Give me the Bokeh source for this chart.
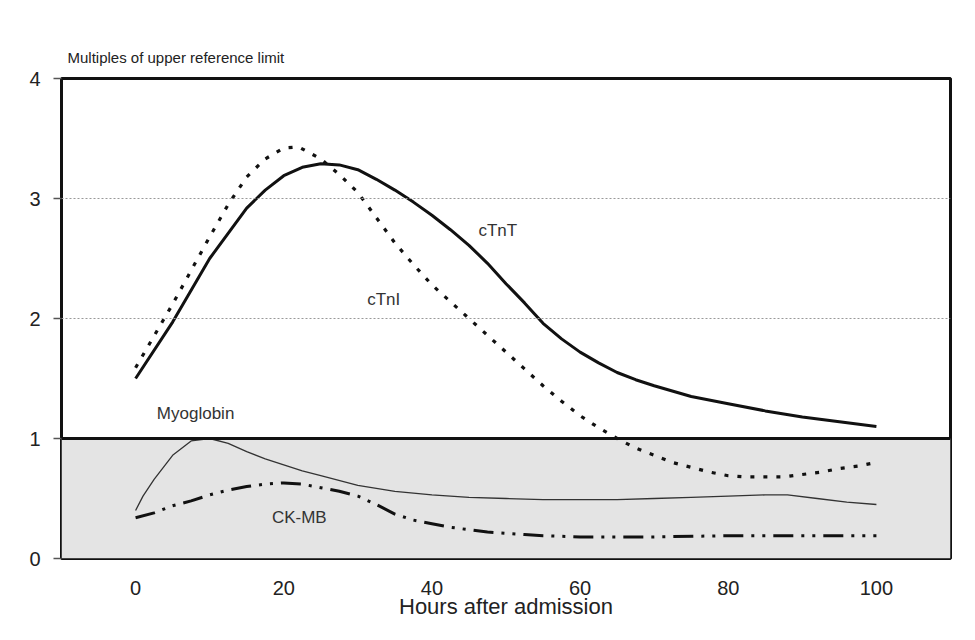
from bokeh.plotting import figure
from bokeh.models import Range1d, FixedTicker, Span, BoxAnnotation, Label
from bokeh.embed import file_html
from bokeh.resources import INLINE

# ---- data ----
hours_tnt = [0, 5, 10, 15, 17.5, 20, 22.5, 25, 27.5, 30, 32.5, 35, 37.5, 40, 42.5, 45, 47.5, 50,
             52.5, 55, 57.5, 60, 62.5, 65, 67.5, 70, 75, 80, 85, 90, 95, 100]
ctnt = [1.5, 1.97, 2.5, 2.92, 3.07, 3.19, 3.26, 3.29, 3.28, 3.24, 3.16, 3.07, 2.97, 2.86, 2.74, 2.61,
        2.46, 2.29, 2.13, 1.96, 1.83, 1.72, 1.63, 1.55, 1.49, 1.44, 1.35, 1.29, 1.23, 1.18, 1.14, 1.1]

hours_tni = [0, 5, 10, 12.5, 15, 17.5, 20, 22, 25, 27.5, 30, 32.5, 35, 37.5, 40, 42.5, 45, 47.5, 50,
             52.5, 55, 57.5, 60, 62.5, 65, 67.5, 70, 72.5, 75, 77.5, 80, 82.5, 85, 87.5, 90, 92.5, 95, 97.5, 100]
ctni = [1.59, 2.12, 2.68, 2.95, 3.18, 3.33, 3.42, 3.43, 3.33, 3.2, 3.05, 2.84, 2.63, 2.45, 2.28, 2.14,
        2.0, 1.86, 1.72, 1.58, 1.44, 1.31, 1.19, 1.09, 1.0, 0.92, 0.86, 0.8, 0.76, 0.72, 0.69, 0.68,
        0.68, 0.68, 0.7, 0.72, 0.75, 0.77, 0.8]

hours_myo = [0, 1, 2.5, 5, 7.5, 10, 12.5, 15, 17.5, 20, 22.5, 25, 30, 35, 40, 45, 50, 55, 60, 65, 70,
             75, 80, 85, 88, 92, 96, 100]
myoglobin = [0.40, 0.52, 0.66, 0.86, 0.98, 1.0, 0.96, 0.89, 0.83, 0.78, 0.73, 0.69, 0.61, 0.56, 0.53,
             0.51, 0.5, 0.49, 0.49, 0.49, 0.5, 0.51, 0.52, 0.53, 0.53, 0.5, 0.47, 0.45]

hours_ck = [0, 2.5, 5, 7.5, 10, 12.5, 15, 17.5, 20, 22.5, 25, 27.5, 30, 32.5, 35, 37.5, 40, 42.5, 45,
            47.5, 50, 52.5, 55, 60, 70, 80, 90, 100]
ckmb = [0.34, 0.38, 0.44, 0.48, 0.53, 0.57, 0.6, 0.62, 0.63, 0.62, 0.59, 0.56, 0.52, 0.45, 0.37, 0.32,
        0.29, 0.26, 0.24, 0.22, 0.21, 0.2, 0.19, 0.18, 0.18, 0.19, 0.19, 0.19]

x_ticks = [0, 20, 40, 60, 80, 100]
y_ticks = [0, 1, 2, 3, 4]
grid_levels = [2, 3]
reference_limit = 1

labels = ["cTnT", "cTnI", "Myoglobin", "CK-MB"]
label_x = [48.9, 33.5, 8.1, 22.1]
label_y = [2.73, 2.16, 1.21, 0.34]

FONT = "Liberation Sans"

p = figure(width=959, height=624, output_backend="svg", toolbar_location=None,
           x_range=Range1d(-10, 110), y_range=Range1d(0, 4),
           min_border_left=61, min_border_right=9, min_border_top=78, min_border_bottom=66,
           title="Multiples of upper reference limit")

p.background_fill_color = "white"
p.border_fill_color = "white"
p.outline_line_color = "#111111"
p.outline_line_width = 3
p.xgrid.visible = False
p.ygrid.visible = False

p.title.text_font = FONT
p.title.text_font_size = "15px"
p.title.text_font_style = "normal"
p.title.text_color = "#222222"
p.title.align = "left"
p.title.offset = 6
p.title.standoff = 26

# shaded region below the reference limit
p.add_layout(BoxAnnotation(bottom=0, top=reference_limit, fill_color="#e4e4e4", fill_alpha=1.0,
                           line_color=None, level="underlay"))
for g in grid_levels:
    p.add_layout(Span(location=g, dimension="width", line_color="#999999", line_width=1,
                      line_dash="2 2"))
p.add_layout(Span(location=reference_limit, dimension="width", line_color="#111111", line_width=3))

# curves
p.line(hours_myo, myoglobin, line_color="#333333", line_width=1.3)
p.line(hours_ck, ckmb, line_color="#111111", line_width=3, line_dash="20 8 3 8 3 8")
p.line(hours_tni, ctni, line_color="#111111", line_width=3.2, line_dash="4 9")
p.line(hours_tnt, ctnt, line_color="#111111", line_width=3)

for t, lx, ly in zip(labels, label_x, label_y):
    p.add_layout(Label(x=lx, y=ly, text=t, text_align="center", text_baseline="middle",
                       text_font=FONT, text_font_size="17px", text_color="#333333"))

# axes
xa = p.xaxis[0]
xa.ticker = FixedTicker(ticks=x_ticks)
xa.axis_line_color = None
xa.major_tick_line_color = None
xa.minor_tick_line_color = None
xa.major_tick_out = 0
xa.major_label_standoff = 22
xa.major_label_text_font = FONT
xa.major_label_text_font_size = "20px"
xa.major_label_text_color = "#222222"
xa.axis_label = "Hours after admission"
xa.axis_label_text_font = FONT
xa.axis_label_text_font_size = "22px"
xa.axis_label_text_font_style = "normal"
xa.axis_label_text_color = "#222222"
xa.axis_label_standoff = -4

ya = p.yaxis[0]
ya.ticker = FixedTicker(ticks=y_ticks)
ya.axis_line_color = None
ya.major_tick_line_color = "#555555"
ya.major_tick_line_width = 1.5
ya.major_tick_out = 8
ya.major_tick_in = 0
ya.minor_tick_line_color = None
ya.major_label_standoff = 13
ya.major_label_text_font = FONT
ya.major_label_text_font_size = "20px"
ya.major_label_text_color = "#222222"

open("out.html", "w").write(file_html(p, INLINE))
